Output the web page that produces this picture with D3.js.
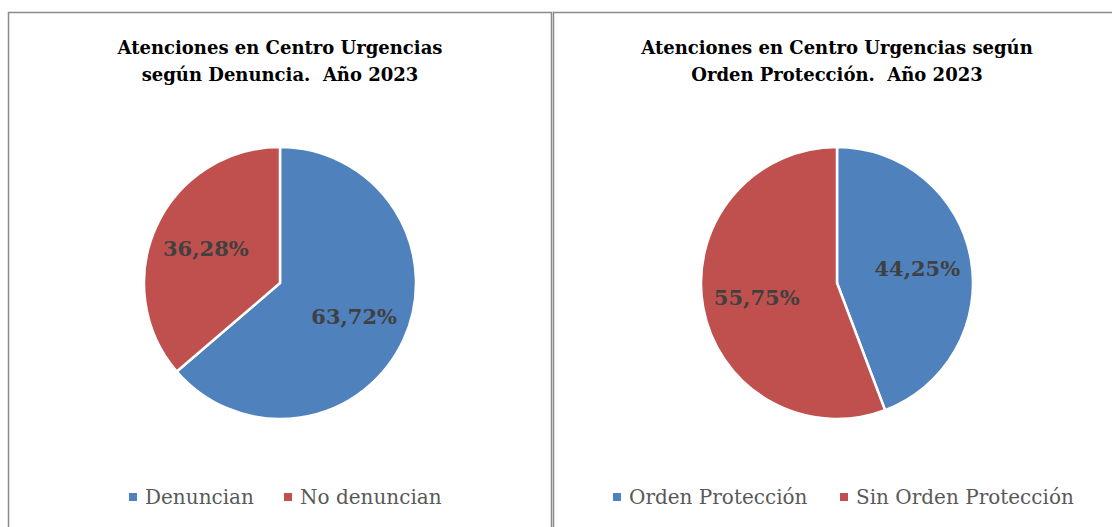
<!DOCTYPE html>
<html>
<head>
    <meta charset='utf-8'>
    <title>Atenciones Centro Urgencias</title>
    <script src='https://d3js.org/d3.v7.min.js'></script>
    <style>
        body { margin: 0; background: #fff; }
        text { white-space: pre; }
    </style>
</head>
<body>
<div id='chart'></div>
<script type='text/javascript'>
    // datos de cada gráfico
    const titulo1 = ['Atenciones en Centro Urgencias', 'según Denuncia.  Año 2023'];
    const categorias1 = ['Denuncian', 'No denuncian'];
    const valores1 = [63.72, 36.28];

    const titulo2 = ['Atenciones en Centro Urgencias según', 'Orden Protección.  Año 2023'];
    const categorias2 = ['Orden Protección', 'Sin Orden Protección'];
    const valores2 = [44.25, 55.75];

    const colores = ['#4F81BD', '#C0504D'];
    const fuente = "'DejaVu Serif', 'Liberation Serif', serif";

    let W = 1112, H = 527;

    let svg = d3.select('#chart')
        .append('svg')
            .attr('width', W)
            .attr('height', H);

    // marcos de los paneles
    svg.append('rect')
        .attr('x', 8.5).attr('y', 12.5)
        .attr('width', 543).attr('height', 530)
        .attr('fill', 'none').attr('stroke', '#8a8a8a').attr('stroke-width', 1.5);
    svg.append('rect')
        .attr('x', 553.5).attr('y', 12.5)
        .attr('width', 570).attr('height', 530)
        .attr('fill', 'none').attr('stroke', '#8a8a8a').attr('stroke-width', 1.5);

    const fmt = (v) => v.toFixed(2).replace('.', ',') + '%';

    const dibujarPie = (cx, titulo, categorias, valores, legendX) => {
        let g = svg.append('g');

        // título
        g.selectAll('text.titulo')
            .data(titulo)
            .enter()
            .append('text')
            .attr('class', 'titulo')
            .attr('x', cx)
            .attr('y', (d, i) => 54 + i * 27)
            .attr('text-anchor', 'middle')
            .attr('font-family', fuente)
            .attr('font-weight', 'bold')
            .attr('font-size', '18px')
            .attr('fill', '#000')
            .text((d) => d);

        let r = 136;
        let pie = d3.pie().sort(null).value((d) => d);
        let arc = d3.arc().innerRadius(0).outerRadius(r);
        let arcLabel = d3.arc().innerRadius(r * 0.6).outerRadius(r * 0.6);

        let pg = g.append('g').attr('transform', `translate(${cx},283)`);
        let datos = pie(valores);

        pg.selectAll('path')
            .data(datos)
            .enter()
            .append('path')
            .attr('d', arc)
            .attr('fill', (d, i) => colores[i])
            .attr('stroke', '#fff')
            .attr('stroke-width', 2.5)
            .attr('stroke-linejoin', 'round');

        pg.selectAll('text')
            .data(datos)
            .enter()
            .append('text')
            .attr('transform', (d) => `translate(${arcLabel.centroid(d)})`)
            .attr('dy', '0.35em')
            .attr('text-anchor', 'middle')
            .attr('font-family', fuente)
            .attr('font-weight', 'bold')
            .attr('font-size', '21px')
            .attr('fill', '#404040')
            .text((d) => fmt(d.data));

        // leyenda
        let lg = g.append('g').attr('transform', `translate(0,497)`);
        let x = legendX;
        categorias.forEach((c, i) => {
            lg.append('rect')
                .attr('x', x[i]).attr('y', -4)
                .attr('width', 8).attr('height', 8)
                .attr('fill', colores[i]);
            lg.append('text')
                .attr('x', x[i] + 16)
                .attr('y', 7)
                .attr('font-family', fuente)
                .attr('font-size', '20px')
                .attr('fill', '#595959')
                .text(c);
        });
    };

    dibujarPie(280, titulo1, categorias1, valores1, [129, 284]);
    dibujarPie(837, titulo2, categorias2, valores2, [613, 840]);
</script>
</body>
</html>
